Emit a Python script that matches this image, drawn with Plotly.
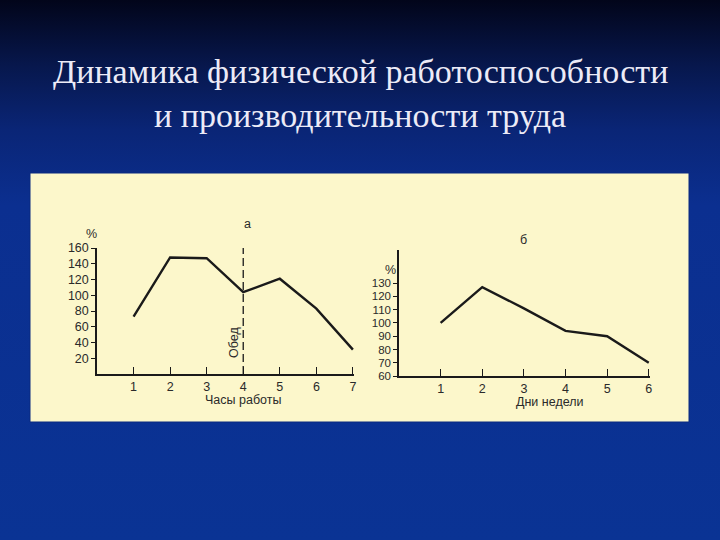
import base64

import plotly.graph_objects as go

# Chart "а": physical work capacity by hour of work (%)
hours = [1, 2, 3, 4, 5, 6, 7]
capacity = [73, 148, 147, 104, 121, 83, 31]
lunch_hour = 4

# Chart "б": labour productivity by day of week (%)
days = [1, 2, 3, 4, 5, 6]
productivity = [100, 127, 111, 94, 90, 70]

left_yticks = [20, 40, 60, 80, 100, 120, 140, 160]
right_yticks = [60, 70, 80, 90, 100, 110, 120, 130]

W, H = 720, 540
INK = "#1a1a1a"


def tickfont(size):
    return dict(family="Liberation Sans, Arial, sans-serif", size=size, color="#2a2a2a")


def px(x):
    return x / W


def py(y):
    return 1 - y / H


# slide background: vertical gradient, dark navy at the top into royal blue
bg_svg = (
    '<svg xmlns="http://www.w3.org/2000/svg" width="720" height="540">'
    '<defs><linearGradient id="g" x1="0" y1="0" x2="0" y2="1">'
    '<stop offset="0" stop-color="#02051a"/>'
    '<stop offset="0.12" stop-color="#07174c"/>'
    '<stop offset="0.24" stop-color="#0a2576"/>'
    '<stop offset="0.38" stop-color="#0b2f90"/>'
    '<stop offset="1" stop-color="#0a3394"/>'
    '</linearGradient></defs>'
    '<rect width="720" height="540" fill="url(#g)"/></svg>'
)
bg_uri = "data:image/svg+xml;base64," + base64.b64encode(bg_svg.encode()).decode()

fig = go.Figure()

# chart а
fig.add_trace(go.Scatter(
    x=hours, y=capacity, mode="lines",
    line=dict(color=INK, width=2.4),
    showlegend=False, xaxis="x", yaxis="y",
))
fig.add_trace(go.Scatter(
    x=[lunch_hour, lunch_hour], y=[0, left_yticks[-1]], mode="lines",
    line=dict(color=INK, width=1.3, dash="8px,4px"),
    showlegend=False, xaxis="x", yaxis="y", cliponaxis=False,
))

# chart б
fig.add_trace(go.Scatter(
    x=days, y=productivity, mode="lines",
    line=dict(color=INK, width=2.4),
    showlegend=False, xaxis="x2", yaxis="y2",
))

axis_common = dict(
    showline=True, linecolor=INK, linewidth=1.5, showgrid=False, zeroline=False,
    tickcolor=INK, tickwidth=1.3, fixedrange=True, automargin=False,
)

fig.update_layout(
    width=W, height=H,
    margin=dict(l=0, r=0, t=0, b=0, pad=0),
    paper_bgcolor="#0a3394",
    plot_bgcolor="rgba(0,0,0,0)",
    images=[dict(source=bg_uri, xref="paper", yref="paper", x=0, y=1,
                 sizex=1, sizey=1, sizing="stretch", xanchor="left", yanchor="top",
                 layer="below")],
    shapes=[dict(type="rect", xref="paper", yref="paper",
                 x0=px(30), x1=px(689), y0=py(422), y1=py(173),
                 fillcolor="#fcf7cb", line=dict(color="#0a2a80", width=1),
                 layer="below")],
    xaxis=dict(domain=[px(97), px(354)], anchor="y", range=[0, 7.03],
               tickvals=hours, ticks="inside", ticklen=7, tickfont=tickfont(12.5),
               **axis_common),
    yaxis=dict(domain=[py(374), py(248)], anchor="x", range=[0, 160],
               tickvals=left_yticks, ticks="outside", ticklen=4, tickfont=tickfont(12.5),
               **axis_common),
    xaxis2=dict(domain=[px(399), px(650)], anchor="y2", range=[0, 6.03],
                tickvals=days, ticks="inside", ticklen=7, tickfont=tickfont(12.5),
                **axis_common),
    yaxis2=dict(domain=[py(376), py(250)], anchor="x2", range=[60, 155],
                tickvals=right_yticks, ticks="outside", ticklen=4, tickfont=tickfont(11.5),
                **axis_common),
)

title_font = dict(family="Liberation Serif, DejaVu Serif, serif", size=34, color="#ecebf7")
label_font = dict(family="Liberation Sans, Arial, sans-serif", size=12.5, color="#2a2a2a")

annotations = [
    dict(text="Динамика физической работоспособности", x=0.5, y=py(72), font=title_font),
    dict(text="и производительности труда", x=0.5, y=py(115), font=title_font),
    dict(text="а", x=px(247), y=py(224), font=label_font),
    dict(text="%", x=px(91), y=py(234), font=label_font),
    dict(text="Обед", x=px(234), y=py(343), font=label_font, textangle=-90),
    dict(text="Часы работы", x=px(243), y=py(400), font=label_font),
    dict(text="б", x=px(523), y=py(240), font=label_font),
    dict(text="%", x=px(391), y=py(270), font=label_font),
    dict(text="Дни недели", x=px(550), y=py(402), font=label_font),
]
for a in annotations:
    fig.add_annotation(xref="paper", yref="paper", showarrow=False,
                       xanchor="center", yanchor="middle", **a)

fig.write_html(
    "out.html",
    config={"displayModeBar": False},
    post_script=(
        "document.body.style.margin='0';"
        "document.body.style.background='#02051a';"
        "var d=document.getElementById('{plot_id}');"
        "d.style.position='fixed';d.style.top='0';d.style.left='0';"
    ),
)
